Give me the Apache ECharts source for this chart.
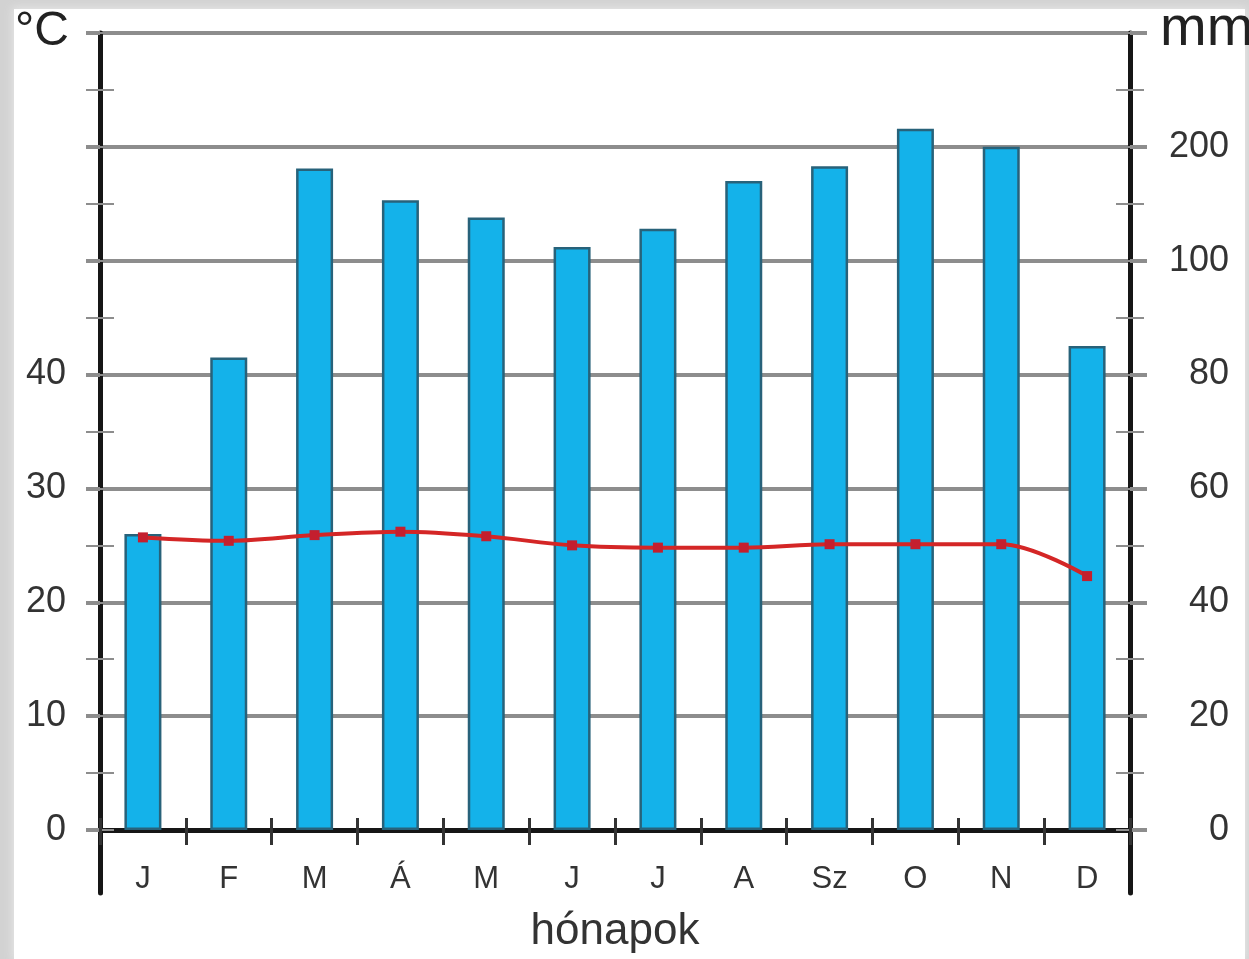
<!DOCTYPE html>
<html>
<head>
<meta charset="utf-8">
<script src="https://cdn.jsdelivr.net/npm/echarts@6/dist/echarts.min.js"></script>
<style>
  html, body { margin: 0; padding: 0; width: 1249px; height: 959px; overflow: hidden; background: #d2d2d2; }
  #frame { position: absolute; left: 14px; top: 9px; width: 1231px; height: 950px; background: #ffffff; box-shadow: 0 0 8px 2px #e4e4e4; }
  #chart { position: absolute; left: 0; top: 0; width: 1249px; height: 959px; }
</style>
</head>
<body>
<div id="frame"></div>
<div id="chart"></div>
<script>
// Data
const months = ['J', 'F', 'M', 'Á', 'M', 'J', 'J', 'A', 'Sz', 'O', 'N', 'D'];
const precipitationMm = [52, 83, 181, 153, 138, 112, 128, 170, 183, 216, 200, 85];
const temperatureC = [25.7, 25.4, 25.9, 26.2, 25.8, 25.0, 24.8, 24.8, 25.1, 25.1, 25.1, 22.3];
const tempTickLabels = ['0', '10', '20', '30', '40', '', '', ''];
const mmTickLabels = ['0', '20', '40', '60', '80', '100', '200', ''];
const xAxisTitle = 'hónapok';
const leftUnit = '°C';
const rightUnit = 'mm';

// Climate-diagram scale: 10 °C = 20 mm up to 100 mm, above that 10 °C = 100 mm
function mmToScale(mm) {
  return mm <= 100 ? mm / 2 : 50 + (mm - 100) / 10;
}

const chart = echarts.init(document.getElementById('chart'));
const gray = '#8d8d8d';
const black = '#161616';
const textColor = '#333333';
const fontFam = '"Liberation Sans", Arial, sans-serif';

const baseY = {
  type: 'value', gridIndex: 0, min: 0, max: 70, interval: 10,
  axisLine: { show: false },
  splitLine: { show: false }
};

const option = {
  animation: false,
  grid: [
    { left: 100, right: 119, top: 33, bottom: 124 },
    { left: 100, right: 119, top: 33, bottom: 66 }
  ],
  xAxis: [
    {
      type: 'category', gridIndex: 0, data: months, position: 'bottom',
      axisLine: { show: true, onZero: false, lineStyle: { color: black, width: 5 } },
      axisTick: { show: true, alignWithLabel: false, length: 15, lineStyle: { color: '#333', width: 3 } },
      axisLabel: { color: textColor, fontSize: 31, fontFamily: fontFam, margin: 34 },
      name: xAxisTitle, nameLocation: 'middle', nameGap: 80,
      nameTextStyle: { color: textColor, fontSize: 44, fontFamily: fontFam }
    },
    {
      type: 'category', gridIndex: 0, data: months, position: 'bottom',
      axisLine: { show: false, onZero: false },
      axisTick: { show: true, inside: true, alignWithLabel: false, length: 12, lineStyle: { color: '#333', width: 3 } },
      axisLabel: { show: false }
    },
    { type: 'category', gridIndex: 1, data: months, show: false }
  ],
  yAxis: [
    Object.assign({}, baseY, {
      position: 'left',
      splitLine: { show: true, lineStyle: { color: gray, width: 4 } },
      axisTick: { show: true, length: 14, lineStyle: { color: gray, width: 4 } },
      minorTick: { show: true, splitNumber: 2, length: 14, lineStyle: { color: gray, width: 2 } },
      axisLabel: {
        color: textColor, fontSize: 36, fontFamily: fontFam, margin: 34,
        formatter: function (v) { return tempTickLabels[Math.round(v / 10)]; }
      }
    }),
    Object.assign({}, baseY, {
      position: 'left',
      axisTick: { show: true, inside: true, length: 14, lineStyle: { color: gray, width: 2 } },
      minorTick: { show: true, splitNumber: 2, length: 14, lineStyle: { color: gray, width: 2 } },
      axisLabel: { show: false }
    }),
    Object.assign({}, baseY, {
      position: 'right',
      axisTick: { show: true, length: 17, lineStyle: { color: gray, width: 4 } },
      minorTick: { show: true, splitNumber: 2, length: 14, lineStyle: { color: gray, width: 2 } },
      axisLabel: {
        color: textColor, fontSize: 36, fontFamily: fontFam, margin: 99, align: 'right',
        formatter: function (v) { return mmTickLabels[Math.round(v / 10)]; }
      }
    }),
    Object.assign({}, baseY, {
      position: 'right',
      axisTick: { show: true, inside: true, length: 14, lineStyle: { color: gray, width: 2 } },
      minorTick: { show: true, splitNumber: 2, length: 14, lineStyle: { color: gray, width: 2 } },
      axisLabel: { show: false }
    }),
    {
      type: 'value', gridIndex: 1, position: 'left', min: 0, max: 10,
      axisLine: { show: true, lineStyle: { color: black, width: 5 } },
      axisTick: { show: false }, axisLabel: { show: false }, splitLine: { show: false }
    },
    {
      type: 'value', gridIndex: 1, position: 'right', min: 0, max: 10,
      axisLine: { show: true, lineStyle: { color: black, width: 5 } },
      axisTick: { show: false }, axisLabel: { show: false }, splitLine: { show: false }
    }
  ],
  graphic: [
    { type: 'text', left: 15, top: 8, style: { text: leftUnit, fontSize: 48, fontFamily: fontFam, fill: '#222' } },
    { type: 'text', left: 1160, top: 2, style: { text: rightUnit, fontSize: 56, fontFamily: fontFam, fill: '#222' } }
  ],
  series: [
    {
      type: 'bar', xAxisIndex: 0, yAxisIndex: 0,
      data: precipitationMm.map(mmToScale),
      barWidth: 37,
      itemStyle: { color: '#14b2ea', borderColor: '#28627a', borderWidth: 2.5 },
      z: 3
    },
    {
      type: 'line', xAxisIndex: 0, yAxisIndex: 0,
      data: temperatureC,
      smooth: 0.35,
      symbol: 'rect', symbolSize: 10,
      lineStyle: { color: '#d42626', width: 4 },
      itemStyle: { color: '#c41f2e' },
      z: 4
    }
  ]
};
chart.setOption(option);
</script>
</body>
</html>
